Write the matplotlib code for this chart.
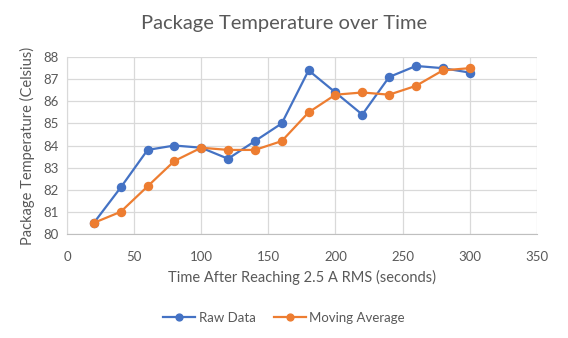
import matplotlib.pyplot as plt

# Datos
tiempo = [20, 40, 60, 80, 100, 120, 140, 160, 180, 200, 220, 240, 260, 280, 300]
raw_data = [80.5, 82.1, 83.8, 84.0, 83.9, 83.4, 84.2, 85.0, 87.4, 86.4, 85.4, 87.1, 87.6, 87.5, 87.3]
moving_avg = [80.5, 81.0, 82.15, 83.3, 83.9, 83.8, 83.8, 84.2, 85.5, 86.3, 86.4, 86.3, 86.7, 87.4, 87.5]

x_ticks = [0, 50, 100, 150, 200, 250, 300, 350]
y_ticks = [80, 81, 82, 83, 84, 85, 86, 87, 88]

plt.rcParams['font.family'] = ['Lato', 'DejaVu Sans']
gris = '#595959'

fig = plt.figure(figsize=(5.68, 3.38), dpi=100)
ax = fig.add_axes([0.118, 0.308, 0.827, 0.523])

ax.plot(tiempo, raw_data, color='#4472C4', lw=1.6, marker='o', ms=5.8, label='Raw Data')
ax.plot(tiempo, moving_avg, color='#ED7D31', lw=1.6, marker='o', ms=5.8, label='Moving Average')

ax.set_xlim(0, 350)
ax.set_ylim(80, 88)
ax.set_xticks(x_ticks)
ax.set_yticks(y_ticks)
ax.grid(True, color='#D9D9D9', lw=0.9)
ax.set_axisbelow(True)
ax.tick_params(length=0, labelsize=9.5, colors=gris)
ax.tick_params(axis='x', pad=12.5)
ax.tick_params(axis='y', pad=6)

for s in ['top', 'right']:
    ax.spines[s].set_visible(False)
ax.spines['left'].set_color('#D9D9D9')
ax.spines['bottom'].set_color('#BFBFBF')

# Título centrado en la figura
fig.text(0.5, 1 - 24/338, 'Package Temperature over Time', fontsize=14.5, color=gris,
         ha='center', va='center')
ax.set_xlabel('Time After Reaching 2.5 A RMS (seconds)', fontsize=10.5, color=gris, labelpad=5)
ax.set_ylabel('Package Temperature (Celsius)', fontsize=10.5, color=gris, labelpad=6)

leg = fig.legend(*ax.get_legend_handles_labels(), loc='center', bbox_to_anchor=(0.5, 1 - 318/338),
                 ncol=2, frameon=False, fontsize=9.5, handlelength=2.4, handletextpad=0.3,
                 columnspacing=1.4, markerscale=0.85)
for t in leg.get_texts():
    t.set_color(gris)

fig.savefig('out.png', dpi=100)
